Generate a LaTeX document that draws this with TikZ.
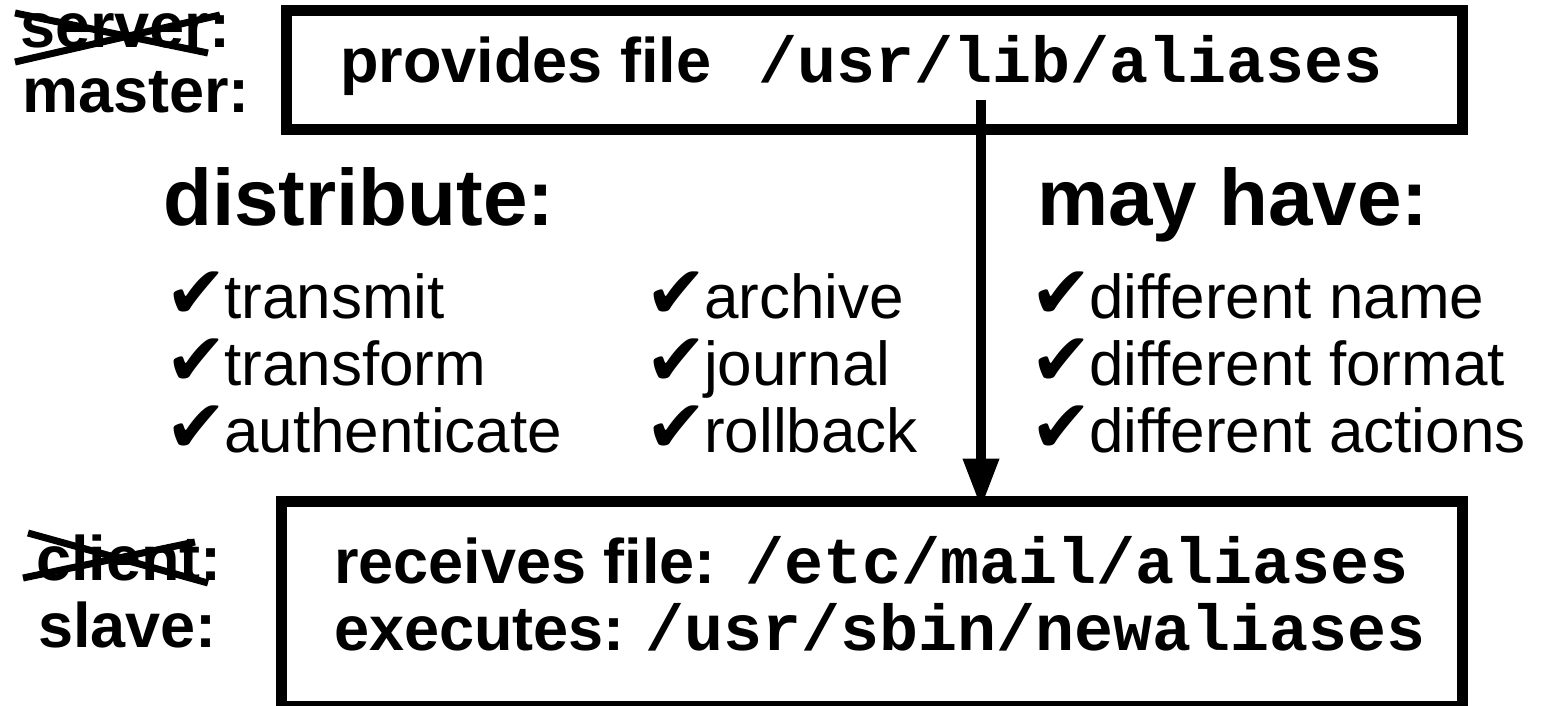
\documentclass[tikz,border=0pt]{standalone}
\usepackage{fontspec}
\setmainfont{Liberation Sans}
\setmonofont{Liberation Mono}
\newfontfamily\djv{DejaVu Sans}
\usetikzlibrary{arrows.meta}
\newcommand{\ck}{\smash{\fontsize{74}{74}\selectfont\djv ✔}\hspace{-3pt}}
\begin{document}
\begin{tikzpicture}[x=1pt,y=-1pt,
  lbl/.style={anchor=base west,inner sep=0pt,font=\fontsize{63}{63}\selectfont\bfseries},
  mono/.style={anchor=base west,inner sep=0pt,font=\fontsize{65}{65}\selectfont\ttfamily\bfseries},
  head/.style={anchor=base west,inner sep=0pt,font=\fontsize{80}{80}\selectfont\bfseries},
  itemcol/.style={anchor=north west,inner sep=0pt,align=left,font=\fontsize{62}{67}\selectfont},
  box/.style={draw,line width=11pt,inner sep=0pt},
  strike/.style={line width=7pt},
  arr/.style={line width=10pt,-{Triangle[length=50pt,width=34pt]}}]
\useasboundingbox (0,0) rectangle (1553,705);
% boxes
\node[box,minimum width=1176pt,minimum height=118.5pt] (top) at (874,69.75) {};
\node[box,minimum width=1181pt,minimum height=205pt] (bot) at (871.5,603.5) {};
% left labels
\node[lbl] (server) at (20,47) {server:};
\node[lbl] (master) at (22,112) {master:};
\node[lbl] (client) at (36,580) {client:};
\node[lbl] (slave) at (38,647) {slave:};
\draw[strike] (15,13) -- (208,53);
\draw[strike] (15,62) -- (220,15);
\draw[strike] (28,533) -- (208,583);
\draw[strike] (23,578) -- (195,542);
% box texts
\node[lbl] (prov) at (340,82) {provides file};
\node[mono] (plib) at (758,82) {/usr/lib/aliases};
\node[lbl] (recv) at (334,583) {receives file:};
\node[mono] (petc) at (745,583) {/etc/mail/aliases};
\node[lbl] (exec) at (334,650) {executes:};
\node[mono] (psbin) at (645,650) {/usr/sbin/newaliases};
% headings
\node[head] (dist) at (163,225) {distribute:};
\node[head] (may) at (1037,225) {may have:};
% items
\node[itemcol] (col1) at (165,268) {\rule{0pt}{50pt}\ck transmit\\ \ck transform\\ \ck authenticate};
\node[itemcol] (col2) at (645,268) {\rule{0pt}{50pt}\ck archive\\ \ck journal\\ \ck rollback};
\node[itemcol] (col3) at (1030,268) {\rule{0pt}{50pt}\ck different name\\ \ck different format\\ \ck different actions};
% arrow
\coordinate (astart) at (981,100);
\draw[arr] (astart) -- ([yshift=-13pt]bot.north -| astart);
\end{tikzpicture}
\end{document}
